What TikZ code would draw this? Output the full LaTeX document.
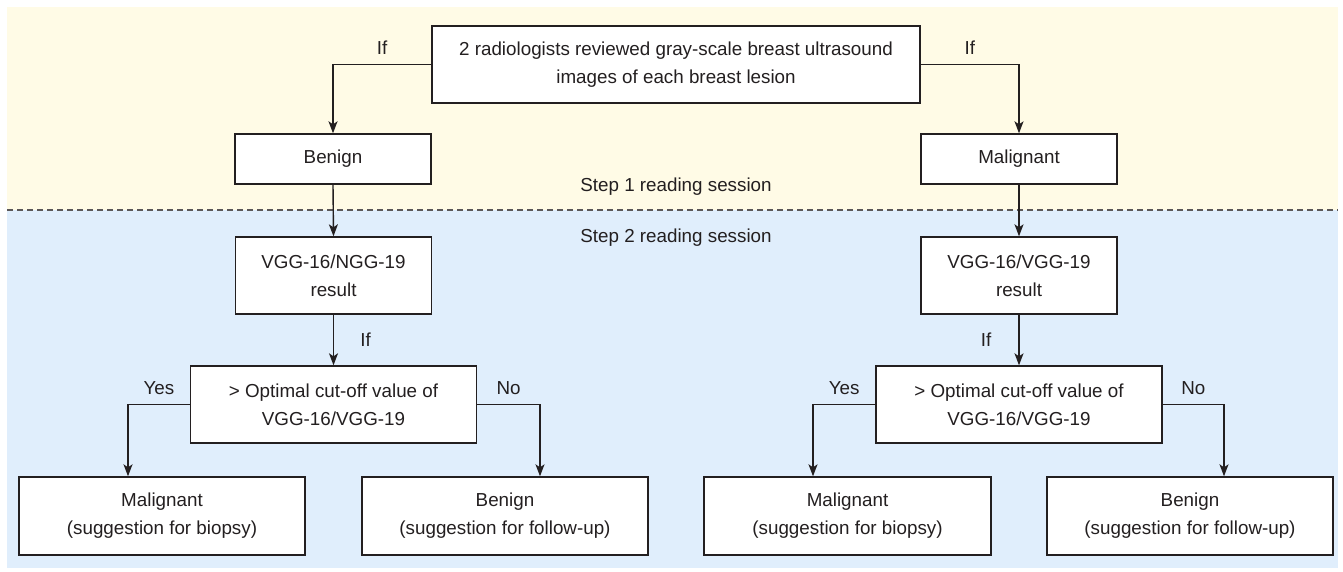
\documentclass[tikz,border=0pt]{standalone}
\usepackage{fontspec}
\setmainfont{Liberation Sans}
\usetikzlibrary{arrows.meta,calc}
\definecolor{bgyellow}{RGB}{255,251,230}
\definecolor{bgblue}{RGB}{224,238,252}
\definecolor{ink}{RGB}{35,31,32}
\tikzset{
  box/.style={draw=ink, line width=1.4pt, fill=white, align=center, inner sep=0pt, font=\fontsize{18.8}{28}\selectfont, text=ink},
  arr/.style={draw=ink, line width=1.4pt, -{Stealth[length=12pt,width=9pt,inset=3pt]}},
  lbl/.style={font=\fontsize{18.8}{22}\selectfont, text=ink, inner sep=0pt},
}
\begin{document}
\begin{tikzpicture}[x=1pt,y=-1pt]
\useasboundingbox (0,0) rectangle (1343,571);
\fill[bgyellow] (7,7) rectangle (1338,210);
\fill[bgblue] (7,210) rectangle (1338,568);
\draw[ink!75, line width=1.2pt, dash pattern=on 6pt off 4pt] (7,210) -- (1338,210);

\node[lbl] (s1) at (676,187) {Step 1 reading session};
\node[lbl] (s2) at (676,238) {Step 2 reading session};

\node[box, minimum width=488, minimum height=77] (top) at (676,64.5) {2 radiologists reviewed gray-scale breast ultrasound\\images of each breast lesion};
\node[box, minimum width=196, minimum height=50] (ben) at (333,159) {Benign};
\node[box, minimum width=196, minimum height=50] (mal) at (1019,159) {Malignant};

\node[box, minimum width=196, minimum height=77] (v1) at (333.5,275.5) {VGG-16/NGG-19\\result};
\node[box, minimum width=196, minimum height=77] (v2) at (1019,275.5) {VGG-16/VGG-19\\result};

\node[box, minimum width=286, minimum height=77] (c1) at (333.5,404.5) {> Optimal cut-off value of\\VGG-16/VGG-19};
\node[box, minimum width=286, minimum height=77] (c2) at (1019,404.5) {> Optimal cut-off value of\\VGG-16/VGG-19};

\node[box, minimum width=286, minimum height=78] (m1) at (162,516) {Malignant\\(suggestion for biopsy)};
\node[box, minimum width=286, minimum height=78] (b1) at (505,516) {Benign\\(suggestion for follow-up)};
\node[box, minimum width=287, minimum height=78] (m2) at (847.5,516) {Malignant\\(suggestion for biopsy)};
\node[box, minimum width=286, minimum height=78] (b2) at (1190,516) {Benign\\(suggestion for follow-up)};

\draw[arr] (top.west) -| node[lbl, pos=0.25, yshift=17pt] {If} (ben.north);
\draw[arr] (top.east) -| node[lbl, pos=0.25, yshift=17pt] {If} (mal.north);
\draw[arr] (ben.south) -- (v1.north);
\draw[arr] (mal.south) -- (v2.north);
\draw[arr] (v1.south) -- node[lbl, xshift=32pt] {If} (c1.north);
\draw[arr] (v2.south) -- node[lbl, xshift=-33pt] {If} (c2.north);
\draw[arr] (c1.west) -| node[lbl, pos=0.25, yshift=16pt] {Yes} ([xshift=-34pt]m1.north);
\draw[arr] (c1.east) -| node[lbl, pos=0.25, yshift=16pt] {No} ([xshift=35pt]b1.north);
\draw[arr] (c2.west) -| node[lbl, pos=0.25, yshift=16pt] {Yes} ([xshift=-34.5pt]m2.north);
\draw[arr] (c2.east) -| node[lbl, pos=0.25, yshift=16pt] {No} ([xshift=34pt]b2.north);
\end{tikzpicture}
\end{document}
